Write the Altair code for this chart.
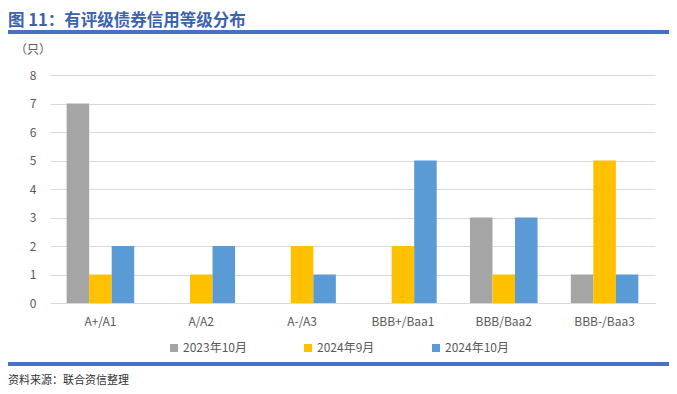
import altair as alt
import pandas as pd

categories = ["A+/A1", "A/A2", "A-/A3", "BBB+/Baa1", "BBB/Baa2", "BBB-/Baa3"]
series = ["2023年10月", "2024年9月", "2024年10月"]
v_2023_10 = [7, 0, 0, 0, 3, 1]
v_2024_09 = [1, 1, 2, 2, 1, 5]
v_2024_10 = [2, 2, 1, 5, 3, 1]
colors = ["#A5A5A5", "#FFC000", "#5B9BD5"]
y_ticks = [0, 1, 2, 3, 4, 5, 6, 7, 8]

title_text = "图 11：有评级债券信用等级分布"
unit_text = "（只）"
source_text = "资料来源：联合资信整理"

rows = []
for s, vals in zip(series, [v_2023_10, v_2024_09, v_2024_10]):
    for c, v in zip(categories, vals):
        rows.append({"category": c, "series": s, "value": v})
df = pd.DataFrame(rows)

FONT = "Noto Sans CJK SC"
one = pd.DataFrame({"a": [0]})

bars = alt.Chart(df).mark_bar().encode(
    x=alt.X("category:N", sort=categories,
            scale=alt.Scale(paddingInner=0.33, paddingOuter=0.165),
            axis=alt.Axis(title=None, labelAngle=0, ticks=False, domainColor="#D9D9D9",
                          labelColor="#595959", labelFontSize=12, labelPadding=13, labelFont=FONT)),
    xOffset=alt.XOffset("series:N", sort=series, scale=alt.Scale(paddingInner=0, paddingOuter=0)),
    y=alt.Y("value:Q", scale=alt.Scale(domain=[0, 8]),
            axis=alt.Axis(title=None, values=y_ticks, domain=False, ticks=False, gridColor="#D9D9D9",
                          labelColor="#595959", labelFontSize=12, labelPadding=14, labelFont=FONT)),
    color=alt.Color("series:N", sort=series, scale=alt.Scale(domain=series, range=colors),
                    legend=alt.Legend(title=None, orient="none", legendX=118, legendY=267,
                                      direction="horizontal", symbolType="square", symbolSize=64,
                                      symbolStrokeWidth=0, labelFontSize=12, labelColor="#595959",
                                      labelFont=FONT, columnPadding=55, labelOffset=3)),
)

title = alt.Chart(one).mark_text(align="left", baseline="middle", fontSize=16.5, fontWeight="bold",
                                 color="#3A62AE", font=FONT).encode(
    x=alt.value(-42), y=alt.value(-54), text=alt.value(title_text))
top_line = alt.Chart(one).mark_rule(color="#4472C4", strokeWidth=4).encode(
    x=alt.value(-45), x2=alt.value(622), y=alt.value(-43))
unit = alt.Chart(one).mark_text(align="center", baseline="middle", fontSize=12, color="#595959",
                                font=FONT).encode(
    x=alt.value(-17), y=alt.value(-25), text=alt.value(unit_text))
bottom_line = alt.Chart(one).mark_rule(color="#4472C4", strokeWidth=4).encode(
    x=alt.value(-45), x2=alt.value(622), y=alt.value(289))
source = alt.Chart(one).mark_text(align="left", baseline="middle", fontSize=11, color="#333333",
                                  font=FONT).encode(
    x=alt.value(-42), y=alt.value(306), text=alt.value(source_text))

chart = alt.layer(bars, title, top_line, unit, bottom_line, source).properties(
    width=605, height=228,
    autosize=alt.AutoSizeParams(type="none"),
    padding={"left": 42, "top": 67, "right": 14, "bottom": 83},
).configure_view(stroke=None)

chart.save("out.html", embed_options={"renderer": "svg", "actions": False})
